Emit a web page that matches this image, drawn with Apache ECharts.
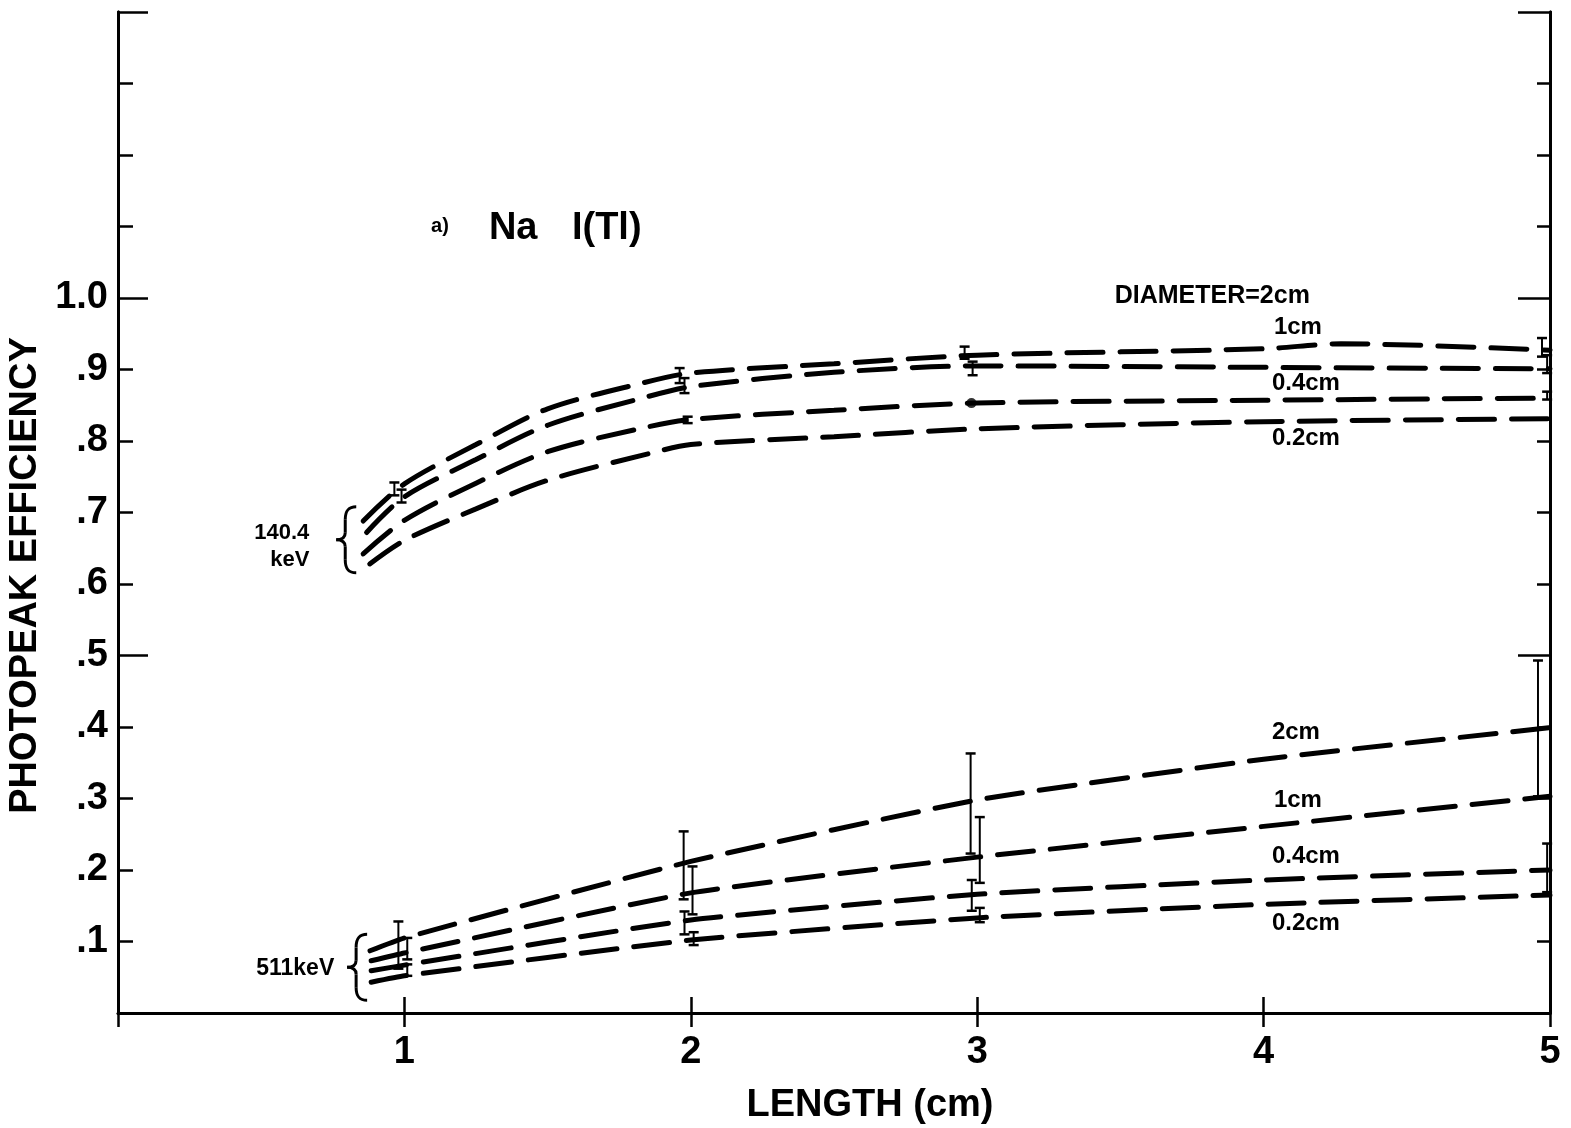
<!DOCTYPE html>
<html>
<head>
<meta charset="utf-8">
<script src="https://cdn.jsdelivr.net/npm/echarts@6/dist/echarts.min.js"></script>
<style>
html,body{margin:0;padding:0;background:#fff;}
#c{width:1571px;height:1128px;}
</style>
</head>
<body>
<div id="c"></div>
<script>
// ---- data ----
const xTicks = [1, 2, 3, 4, 5];
const yTickLabels = ['.1', '.2', '.3', '.4', '.5', '.6', '.7', '.8', '.9', '1.0'];

// 140.4 keV, diameters 2cm, 1cm, 0.4cm, 0.2cm
const kev140_d2  = [[0.856,0.688],[1,0.740],[1.25,0.795],[1.5,0.845],[1.83,0.881],[2,0.895],[2.5,0.908],[3,0.920],[4,0.929],[4.27,0.936],[5,0.927]];
const kev140_d1  = [[0.868,0.672],[1,0.722],[1.25,0.774],[1.5,0.822],[1.83,0.860],[2,0.876],[2.5,0.896],[3,0.905],[4,0.903],[5,0.901]];
const kev140_d04 = [[0.856,0.642],[1,0.689],[1.25,0.741],[1.5,0.785],[1.83,0.818],[2,0.830],[2.5,0.843],[3,0.853],[4,0.857],[5,0.860]];
const kev140_d02 = [[0.879,0.628],[1,0.661],[1.25,0.705],[1.5,0.745],[1.86,0.783],[2,0.795],[2.5,0.806],[3,0.817],[4,0.827],[5,0.831]];

// 511 keV
const kev511_d2  = [[0.88,0.087],[1,0.105],[2,0.212],[3,0.298],[4,0.355],[5,0.399]];
const kev511_d1  = [[0.884,0.073],[1,0.084],[2,0.168],[3,0.218],[4,0.261],[5,0.303]];
const kev511_d04 = [[0.884,0.059],[1,0.067],[2,0.130],[3,0.166],[4,0.186],[5,0.200]];
const kev511_d02 = [[0.884,0.043],[1,0.052],[2,0.102],[3,0.133],[4,0.152],[5,0.165]];

// error bars [x, low, high]
const errorBars = [
  [0.965,0.724,0.742],[0.99,0.714,0.732],[1.961,0.881,0.902],[1.978,0.867,0.888],[1.989,0.825,0.834],
  [2.956,0.915,0.932],[2.984,0.892,0.911],[4.972,0.918,0.944],[4.99,0.895,0.920],[4.99,0.858,0.869],
  [0.979,0.062,0.128],[1.01,0.075,0.105],[1.01,0.052,0.068],[1.975,0.159,0.254],[2.006,0.138,0.205],
  [1.978,0.110,0.142],[2.01,0.095,0.113],[2.977,0.223,0.363],[3.009,0.182,0.274],[2.981,0.143,0.186],
  [3.009,0.127,0.147],[4.958,0.303,0.493],[4.99,0.169,0.237]
];
const dots = [[2.98,0.853]];

// ---- chart ----
const FONT = '"Liberation Sans", Arial, sans-serif';
const chart = echarts.init(document.getElementById('c'), null, {renderer:'canvas'});

function lineSeries(data, smooth){
  return {
    type:'line', data:data, smooth:smooth, symbol:'none',
    lineStyle:{color:'#000', width:5, type:[36,17], cap:'round'},
    z:3, silent:true
  };
}
function yAx(pos, len, interval, showLabel, lineW){
  return {
    type:'value', position:pos, min:0, max:1.4, interval:interval,
    axisLine:{show:true, lineStyle:{color:'#000', width:lineW}},
    axisTick:{show:true, inside:true, length:len, lineStyle:{color:'#000', width:2.5}},
    splitLine:{show:false},
    axisLabel:{show:showLabel, margin:10, color:'#000', fontFamily:FONT, fontWeight:'bold', fontSize:38,
      formatter:function(v){
        const k = Math.round(v*10);
        if (k >= 1 && k <= 10) return yTickLabels[k-1];
        return '';
      }},
  };
}

const option = {
  backgroundColor:'#fff',
  animation:false,
  grid:{left:118, right:21, top:12, bottom:115, outerBoundsMode:'none', containLabel:false},
  xAxis:[
    {type:'value', position:'bottom', min:0, max:5, interval:1,
     axisLine:{lineStyle:{color:'#000', width:3}},
     axisTick:{inside:true, length:16, lineStyle:{color:'#000', width:2.5}},
     splitLine:{show:false},
     axisLabel:{margin:21, color:'#000', fontFamily:FONT, fontWeight:'bold', fontSize:38,
       formatter:function(v){ return xTicks.indexOf(v) >= 0 ? String(v) : ''; }},
     name:'LENGTH (cm)', nameLocation:'middle', nameGap:74,
     nameTextStyle:{color:'#000', fontFamily:FONT, fontWeight:'bold', fontSize:38, padding:[0,0,0,72]}
    },
    {type:'value', position:'top', min:0, max:5, interval:1,
     axisLine:{lineStyle:{color:'#000', width:2.5}},
     axisTick:{inside:true, length:14, lineStyle:{color:'#000', width:2.5}},
     axisLabel:{show:false}, splitLine:{show:false}}
  ],
  yAxis:[
    Object.assign(yAx('left', 15, 0.1, true, 3), {
      name:'PHOTOPEAK EFFICIENCY', nameLocation:'middle', nameGap:66,
      nameTextStyle:{color:'#000', fontFamily:FONT, fontWeight:'bold', fontSize:38, padding:[0,126,0,0]}
    }),
    yAx('left', 30, 0.5, false, 3),
    yAx('right', 13, 0.1, false, 3),
    yAx('right', 32, 0.5, false, 3)
  ],
  series:[
    lineSeries(kev140_d2, 0.3), lineSeries(kev140_d1, 0.3), lineSeries(kev140_d04, 0.3), lineSeries(kev140_d02, 0.3),
    lineSeries(kev511_d2, 0.15), lineSeries(kev511_d1, 0.15), lineSeries(kev511_d04, 0.15), lineSeries(kev511_d02, 0.15),
    {
      type:'custom', data:errorBars, z:4, silent:true,
      encode:{x:0, y:[1,2]},
      renderItem:function(params, api){
        const x = api.value(0);
        const lo = api.coord([x, api.value(1)]);
        const hi = api.coord([x, api.value(2)]);
        const w = 5;
        return {type:'group', children:[
          {type:'line', shape:{x1:lo[0], y1:lo[1], x2:hi[0], y2:hi[1]}, style:{stroke:'#000', lineWidth:2}},
          {type:'line', shape:{x1:lo[0]-w, y1:lo[1], x2:lo[0]+w, y2:lo[1]}, style:{stroke:'#000', lineWidth:2.5}},
          {type:'line', shape:{x1:hi[0]-w, y1:hi[1], x2:hi[0]+w, y2:hi[1]}, style:{stroke:'#000', lineWidth:2.5}}
        ]};
      }
    },
    {type:'scatter', data:dots, symbol:'circle', symbolSize:10, itemStyle:{color:'#000'}, z:5, silent:true}
  ]
};
chart.setOption(option);

// ---- annotations anchored to data coordinates ----
function P(x, y){ return chart.convertToPixel({gridIndex:0}, [x, y]); }
function txt(s, x, y, size, align){
  const p = P(x, y);
  return {type:'text', x:p[0], y:p[1], z:10, silent:true,
    style:{text:s, fill:'#000', font:'bold ' + size + 'px ' + FONT, align:align || 'left', verticalAlign:'middle'}};
}
function brace(x, y, h){
  const p = P(x, y);
  const ox = p[0], oy = p[1], m = h/2;
  const st = {stroke:'#000', lineWidth:3, fill:null};
  const bz = function(x1,y1,c1x,c1y,c2x,c2y,x2,y2){
    return {type:'bezierCurve', silent:true, z:10,
      shape:{x1:ox+x1, y1:oy+y1, cpx1:ox+c1x, cpy1:oy+c1y, cpx2:ox+c2x, cpy2:oy+c2y, x2:ox+x2, y2:oy+y2}, style:st};
  };
  const ln = function(x1,y1,x2,y2){
    return {type:'line', silent:true, z:10, shape:{x1:ox+x1, y1:oy+y1, x2:ox+x2, y2:oy+y2}, style:st};
  };
  return [
    bz(20,0, 12,0, 9,4, 9,13),
    ln(9,13, 9,m-7),
    bz(9,m-7, 9,m-2, 6,m, 0,m),
    bz(0,m, 6,m, 9,m+2, 9,m+7),
    ln(9,m+7, 9,h-13),
    bz(9,h-13, 9,h-4, 12,h, 20,h)
  ];
}
const g = [
  txt('a)', 1.093, 1.10, 20),
  txt('Na', 1.295, 1.097, 38),
  txt('I(Tl)', 1.585, 1.097, 38),
  txt('DIAMETER=2cm', 3.480, 1.003, 25),
  txt('1cm', 4.036, 0.9595, 24),
  txt('0.4cm', 4.029, 0.881, 24),
  txt('0.2cm', 4.029, 0.803, 24),
  txt('2cm', 4.029, 0.3925, 24),
  txt('1cm', 4.036, 0.2975, 24),
  txt('0.4cm', 4.029, 0.219, 24),
  txt('0.2cm', 4.029, 0.1257, 24),
  txt('140.4', 0.668, 0.672, 22, 'right'),
  txt('keV', 0.668, 0.634, 22, 'right'),
  txt('511keV', 0.755, 0.0615, 23, 'right')
].concat(brace(0.762, 0.708, 66), brace(0.800, 0.110, 66));
chart.setOption({graphic:g});
</script>
</body>
</html>
